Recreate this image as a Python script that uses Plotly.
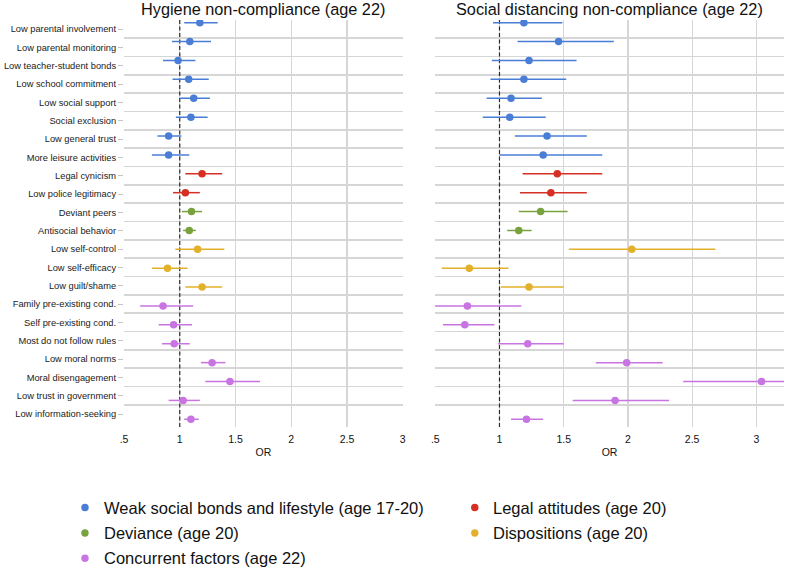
import plotly.graph_objects as go

# ---------------- data ----------------
labels = [
    "Low parental involvement", "Low parental monitoring", "Low teacher-student bonds",
    "Low school commitment", "Low social support", "Social exclusion", "Low general trust",
    "More leisure activities", "Legal cynicism", "Low police legitimacy", "Deviant peers",
    "Antisocial behavior", "Low self-control", "Low self-efficacy", "Low guilt/shame",
    "Family pre-existing cond.", "Self pre-existing cond.", "Most do not follow rules",
    "Low moral norms", "Moral disengagement", "Low trust in government", "Low information-seeking",
]
group_names = [
    "Weak social bonds and lifestyle (age 17-20)", "Legal attitudes (age 20)",
    "Deviance (age 20)", "Dispositions (age 20)", "Concurrent factors (age 22)",
]
group_colors = ["#4a7ed6", "#d62f24", "#78a23d", "#e2b02a", "#c874e2"]
row_group = [0] * 8 + [1] * 2 + [2] * 2 + [3] * 3 + [4] * 7

hyg_or = [1.18, 1.09, 0.985, 1.08, 1.125, 1.10, 0.90, 0.90, 1.20, 1.05, 1.105,
          1.085, 1.16, 0.89, 1.20, 0.85, 0.945, 0.95, 1.29, 1.45, 1.03, 1.10]
hyg_lo = [1.04, 0.93, 0.85, 0.935, 1.00, 0.965, 0.80, 0.75, 1.05, 0.94, 1.02,
          1.03, 0.96, 0.75, 1.05, 0.645, 0.81, 0.84, 1.19, 1.23, 0.90, 1.04]
hyg_hi = [1.34, 1.28, 1.14, 1.26, 1.27, 1.25, 1.015, 1.085, 1.38, 1.18, 1.20,
          1.145, 1.40, 1.07, 1.38, 1.12, 1.11, 1.09, 1.41, 1.72, 1.18, 1.17]

sd_or = [1.19, 1.46, 1.23, 1.19, 1.09, 1.08, 1.37, 1.34, 1.45, 1.40, 1.32,
         1.15, 2.03, 0.765, 1.23, 0.75, 0.73, 1.22, 1.99, 3.04, 1.90, 1.21]
sd_lo = [0.95, 1.14, 0.94, 0.93, 0.90, 0.87, 1.12, 1.00, 1.18, 1.16, 1.15,
         1.06, 1.54, 0.55, 1.01, 0.48, 0.56, 0.99, 1.75, 2.43, 1.57, 1.09]
sd_hi = [1.49, 1.89, 1.60, 1.52, 1.33, 1.36, 1.68, 1.80, 1.80, 1.68, 1.53,
         1.25, 2.68, 1.07, 1.50, 1.17, 0.96, 1.50, 2.27, 3.85, 2.32, 1.34]

panel_titles = ["Hygiene non-compliance (age 22)", "Social distancing non-compliance (age 22)"]
x_tickvals = [0.5, 1, 1.5, 2, 2.5, 3]
x_ticktext = [".5", "1", "1.5", "2", "2.5", "3"]
ref_or = 1

# ---------------- layout geometry ----------------
W, H = 787, 570
top_px, bot_px = 20, 427
ydom = [1 - bot_px / H, 1 - top_px / H]
doms = [[121 / W, 402.5 / W], [435 / W, 1.0]]
xranges = [[0.499, 3.002], [0.499, 3.215]]
n = len(labels)
mark_range = [n - 1 + 0.408, -0.143]
lab_range = [n - 1 + 0.709, -0.491]

FONT = "Liberation Sans, Arial, sans-serif"
GRID = "#d6d6d6"

fig = go.Figure()

panels = [("x", "y", "y2", hyg_or, hyg_lo, hyg_hi),
          ("x2", "y3", "y4", sd_or, sd_lo, sd_hi)]
for xa, ya, yl, orv, lo, hi in panels:
    # dashed reference line at OR = 1 (drawn first, under the markers)
    fig.add_trace(go.Scatter(x=[ref_or, ref_or], y=mark_range, mode="lines",
                             line=dict(color="#2a2a2a", width=1.2, dash="4px,2.5px"),
                             xaxis=xa, yaxis=ya, showlegend=False, hoverinfo="skip"))
    for g, (gname, col) in enumerate(zip(group_names, group_colors)):
        idx = [i for i in range(n) if row_group[i] == g]
        fig.add_trace(go.Scatter(
            x=[orv[i] for i in idx], y=idx, mode="markers",
            marker=dict(size=7.5, color=col),
            error_x=dict(type="data", symmetric=False,
                         array=[hi[i] - orv[i] for i in idx],
                         arrayminus=[orv[i] - lo[i] for i in idx],
                         color=col, thickness=1.5, width=0),
            xaxis=xa, yaxis=ya, name=gname, showlegend=False,
        ))
    # empty helper trace so the label/grid axis is drawn
    fig.add_trace(go.Scatter(x=[None], y=[None], xaxis=xa, yaxis=yl,
                             showlegend=False, hoverinfo="skip"))

common_x = dict(tickmode="array", tickvals=x_tickvals, ticktext=x_ticktext,
                showgrid=True, gridcolor=GRID, gridwidth=1.3, zeroline=False,
                showline=False, ticks="outside", ticklen=2, tickcolor="rgba(0,0,0,0)",
                tickfont=dict(size=10.5, color="#111", family=FONT),
                title=dict(text="OR", standoff=5, font=dict(size=10.5, color="#111", family=FONT)),
                fixedrange=True)
grid_vals = [i + 0.5 for i in range(n - 1)]

fig.update_layout(
    width=W, height=H,
    margin=dict(l=0, r=0, t=0, b=0),
    paper_bgcolor="white", plot_bgcolor="white",
    font=dict(family=FONT, color="#111"),
    showlegend=False,
    xaxis=dict(domain=doms[0], anchor="y", range=xranges[0], **common_x),
    yaxis=dict(domain=ydom, anchor="x", range=mark_range, visible=False, showgrid=False),
    yaxis2=dict(overlaying="y", anchor="x", side="left", range=lab_range,
                tickmode="array", tickvals=list(range(n)), ticktext=labels,
                ticks="outside", ticklen=5, tickwidth=1, tickcolor="#c4c4c4",
                tickfont=dict(size=9.3, color="#1a1a1a", family=FONT),
                showgrid=False, zeroline=False, showline=False,
                minor=dict(tickmode="array", tickvals=grid_vals, showgrid=True,
                           gridcolor=GRID, gridwidth=1.5, ticks="")),
    xaxis2=dict(domain=doms[1], anchor="y3", range=xranges[1], **common_x),
    yaxis3=dict(domain=ydom, anchor="x2", range=mark_range, visible=False, showgrid=False),
    yaxis4=dict(overlaying="y3", anchor="x2", side="left", range=lab_range,
                tickmode="array", tickvals=list(range(n)), showticklabels=False,
                ticks="", showgrid=False, zeroline=False, showline=False,
                minor=dict(tickmode="array", tickvals=grid_vals, showgrid=True,
                           gridcolor=GRID, gridwidth=1.5, ticks="")),
)

# panel titles
for t, d in zip(panel_titles, doms):
    fig.add_annotation(text=t, xref="paper", yref="paper", x=(d[0] + d[1]) / 2,
                       y=1 - 9 / H, xanchor="center", yanchor="middle", showarrow=False,
                       font=dict(size=16.3, color="#111", family=FONT))

# legend (two columns)
leg_pos = [(81.7, 98.5, 507.5), (475, 491.5, 507.5), (81.7, 98.5, 533),
           (475, 491.5, 533), (81.7, 98.5, 558.3)]
for gi, (mx, tx, yy) in enumerate(leg_pos):
    fig.add_shape(type="circle", xref="paper", yref="paper",
                  xsizemode="pixel", ysizemode="pixel",
                  xanchor=mx / W, yanchor=1 - yy / H,
                  x0=-3.7, x1=3.7, y0=-3.7, y1=3.7,
                  fillcolor=group_colors[gi], line=dict(width=0))
    fig.add_annotation(text=group_names[gi], xref="paper", yref="paper",
                       x=tx / W, y=1 - yy / H, xanchor="left", yanchor="middle",
                       showarrow=False, font=dict(size=16.5, color="#111", family=FONT))

fig.write_html("out.html", config={"displayModeBar": False, "staticPlot": True},
               post_script="document.body.style.margin='0';document.body.style.padding='0';")
